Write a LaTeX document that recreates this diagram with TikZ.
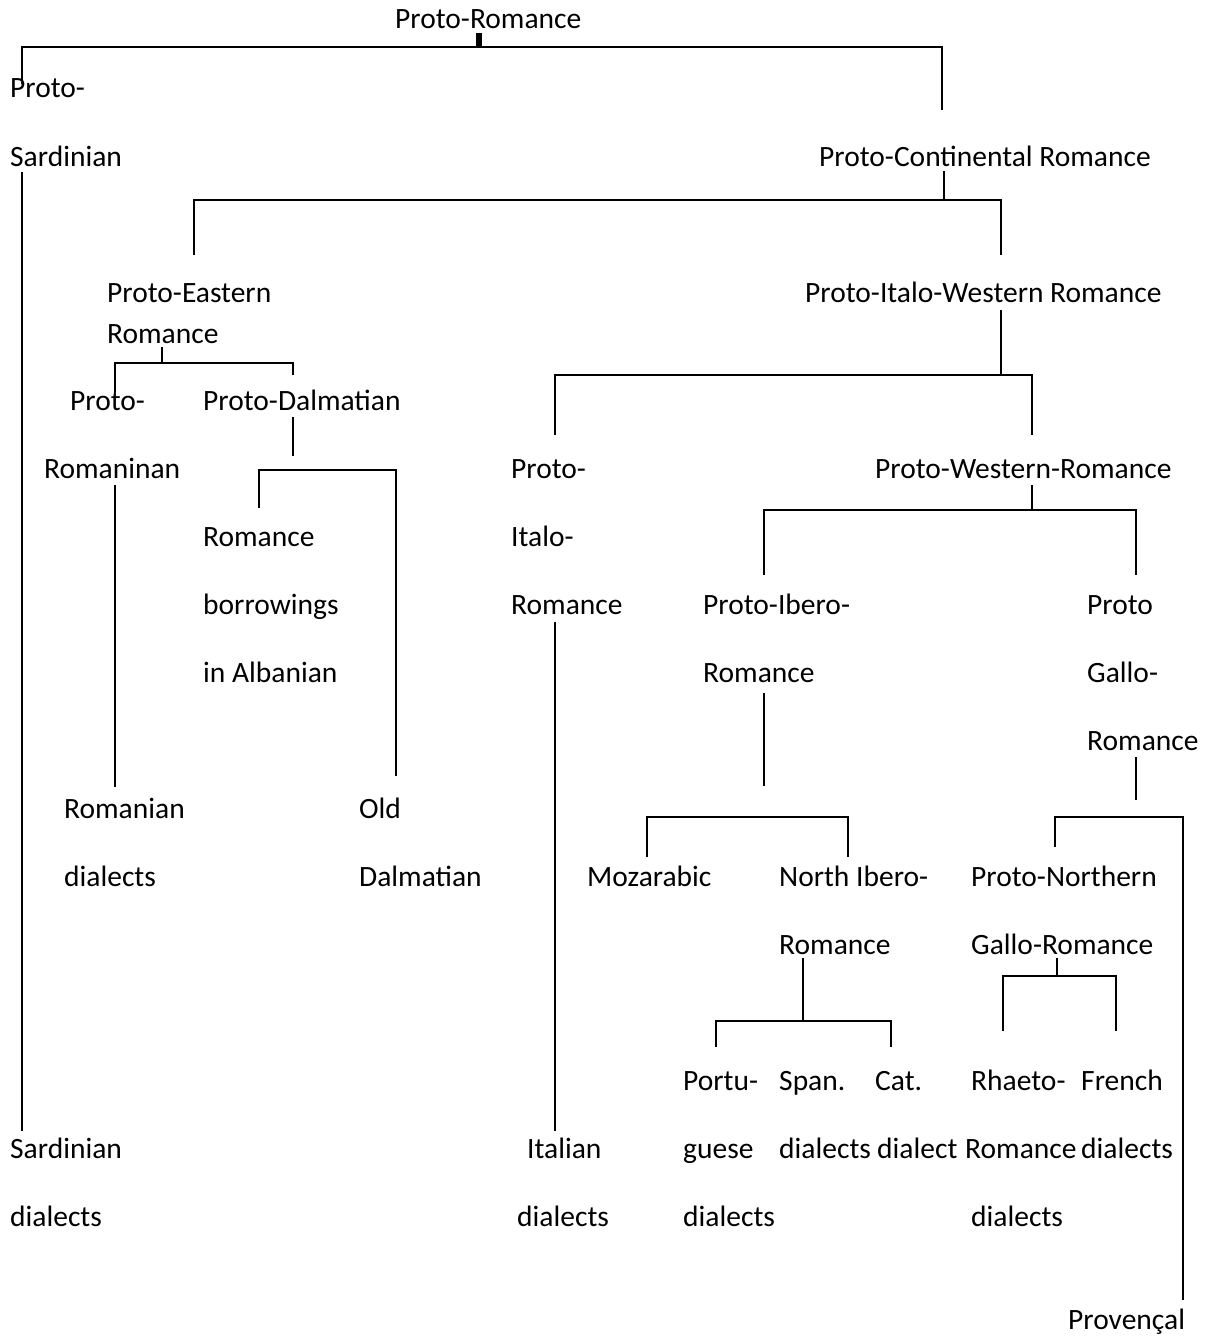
\documentclass[tikz,border=0pt]{standalone}
\usepackage{fontspec}
\setmainfont{Carlito}
\begin{document}
\begin{tikzpicture}[x=1pt,y=-1pt,
  lbl/.style={anchor=base west, inner sep=0pt, font=\fontsize{29.5}{35}\selectfont},
  link/.style={draw=black, line width=2pt},
  stub/.style={draw=black, line width=6pt}]
\useasboundingbox[fill=white] (0,0) rectangle (1205,1338);

% ---- labels ----
\node[lbl] (pr)   at (395,29)   {Proto-Romance};
\node[lbl] (ps1)  at (10,97)    {Proto-};
\node[lbl] (ps2)  at (10,166)   {Sardinian};
\node[lbl] (pc)   at (819,166)  {Proto-Continental Romance};
\node[lbl] (pe1)  at (107,302)  {Proto-Eastern};
\node[lbl] (pe2)  at (107,343)  {Romance};
\node[lbl] (piw)  at (805,302)  {Proto-Italo-Western Romance};
\node[lbl] (prm1) at (70,410)   {Proto-};
\node[lbl] (prm2) at (44,478)   {Romaninan};
\node[lbl] (pd)   at (203,410)  {Proto-Dalmatian};
\node[lbl] (pi1)  at (511,478)  {Proto-};
\node[lbl] (pi2)  at (511,546)  {Italo-};
\node[lbl] (pi3)  at (511,614)  {Romance};
\node[lbl] (pw)   at (875,478)  {Proto-Western-Romance};
\node[lbl] (rb1)  at (203,546)  {Romance};
\node[lbl] (rb2)  at (203,614)  {borrowings};
\node[lbl] (rb3)  at (203,682)  {in Albanian};
\node[lbl] (pib1) at (703,614)  {Proto-Ibero-};
\node[lbl] (pib2) at (703,682)  {Romance};
\node[lbl] (pg1)  at (1087,614) {Proto};
\node[lbl] (pg2)  at (1087,682) {Gallo-};
\node[lbl] (pg3)  at (1087,750) {Romance};
\node[lbl] (rd1)  at (64,818)   {Romanian};
\node[lbl] (rd2)  at (64,886)   {dialects};
\node[lbl] (od1)  at (359,818)  {Old};
\node[lbl] (od2)  at (359,886)  {Dalmatian};
\node[lbl] (moz)  at (587,886)  {Mozarabic};
\node[lbl] (nib1) at (779,886)  {North Ibero-};
\node[lbl] (nib2) at (779,954)  {Romance};
\node[lbl] (png1) at (971,886)  {Proto-Northern};
\node[lbl] (png2) at (971,954)  {Gallo-Romance};
\node[lbl] (pt1)  at (683,1090) {Portu-};
\node[lbl] (pt2)  at (683,1158) {guese};
\node[lbl] (pt3)  at (683,1226) {dialects};
\node[lbl] (sp1)  at (779,1090) {Span.};
\node[lbl] (sp2)  at (779,1158) {dialects};
\node[lbl] (ct1)  at (875,1090) {Cat.};
\node[lbl] (ct2)  at (877,1158) {dialect};
\node[lbl] (rh1)  at (971,1090) {Rhaeto-};
\node[lbl] (rh2)  at (965,1158) {Romance};
\node[lbl] (rh3)  at (971,1226) {dialects};
\node[lbl] (fr1)  at (1081,1090) {French};
\node[lbl] (fr2)  at (1081,1158) {dialects};
\node[lbl] (sd1)  at (10,1158)  {Sardinian};
\node[lbl] (sd2)  at (10,1226)  {dialects};
\node[lbl] (it1)  at (527,1158) {Italian};
\node[lbl] (it2)  at (517,1226) {dialects};
\node[lbl] (prov) at (1068,1329) {Provençal};

% ---- branch points ----
% Proto-Romance
\coordinate (a0) at (479,33);   \coordinate (a1) at (479,47);
\coordinate (aL) at (22,47);    \coordinate (aLb) at (22,84);
\coordinate (aR) at (942,47);   \coordinate (aRb) at (942,110);
% Proto-Sardinian -> Sardinian dialects
\coordinate (s0) at (22,172);   \coordinate (s1) at (22,1131);
% Proto-Continental Romance
\coordinate (c0) at (944,171);  \coordinate (c1) at (944,200);
\coordinate (cL) at (194,200);  \coordinate (cLb) at (194,255);
\coordinate (cR) at (1001,200); \coordinate (cRb) at (1001,255);
% Proto-Eastern Romance
\coordinate (e0) at (162,347);  \coordinate (e1) at (162,363);
\coordinate (eL) at (115,363);  \coordinate (eLb) at (115,392);
\coordinate (eR) at (293,363);  \coordinate (eRb) at (293,375);
% Proto-Romaninan -> Romanian dialects
\coordinate (m0) at (115,485);  \coordinate (m1) at (115,787);
% Proto-Dalmatian
\coordinate (d0) at (293,417);  \coordinate (d1) at (293,456);
\coordinate (dL) at (259,470);  \coordinate (dLb) at (259,508);
\coordinate (dR) at (396,470);  \coordinate (dRb) at (396,776);
% Proto-Italo-Western Romance
\coordinate (w0) at (1001,310); \coordinate (w1) at (1001,375);
\coordinate (wL) at (555,375);  \coordinate (wLb) at (555,435);
\coordinate (wR) at (1032,375); \coordinate (wRb) at (1032,435);
% Proto-Italo-Romance -> Italian dialects
\coordinate (i0) at (555,622);  \coordinate (i1) at (555,1131);
% Proto-Western-Romance
\coordinate (v0) at (1032,485); \coordinate (v1) at (1032,510);
\coordinate (vL) at (764,510);  \coordinate (vLb) at (764,575);
\coordinate (vR) at (1136,510); \coordinate (vRb) at (1136,575);
% Proto-Ibero-Romance
\coordinate (b0) at (764,693);  \coordinate (b1) at (764,786);
\coordinate (bL) at (647,817);  \coordinate (bLb) at (647,857);
\coordinate (bR) at (848,817);  \coordinate (bRb) at (848,857);
% Proto Gallo-Romance
\coordinate (g0) at (1136,757); \coordinate (g1) at (1136,800);
\coordinate (gL) at (1055,817); \coordinate (gLb) at (1055,847);
\coordinate (gR) at (1183,817); \coordinate (gRb) at (1183,1300);
% North Ibero-Romance
\coordinate (n0) at (803,958);  \coordinate (n1) at (803,1021);
\coordinate (nL) at (716,1021); \coordinate (nLb) at (716,1047);
\coordinate (nR) at (891,1021); \coordinate (nRb) at (891,1047);
% Proto-Northern Gallo-Romance
\coordinate (f0) at (1057,958); \coordinate (f1) at (1057,976);
\coordinate (fL) at (1003,976); \coordinate (fLb) at (1003,1031);
\coordinate (fR) at (1116,976); \coordinate (fRb) at (1116,1031);

% ---- connectors ----
\draw[stub] (a0) -- (a1);
\draw[link] (aLb) -- (aL) -- (aR) -- (aRb);
\draw[link] (s0) -- (s1);
\draw[link] (c0) -- (c1);
\draw[link] (cLb) -- (cL) -- (cR) -- (cRb);
\draw[link] (e0) -- (e1);
\draw[link] (eLb) -- (eL) -- (eR) -- (eRb);
\draw[link] (m0) -- (m1);
\draw[link] (d0) -- (d1);
\draw[link] (dLb) -- (dL) -- (dR) -- (dRb);
\draw[link] (w0) -- (w1);
\draw[link] (wLb) -- (wL) -- (wR) -- (wRb);
\draw[link] (i0) -- (i1);
\draw[link] (v0) -- (v1);
\draw[link] (vLb) -- (vL) -- (vR) -- (vRb);
\draw[link] (b0) -- (b1);
\draw[link] (bLb) -- (bL) -- (bR) -- (bRb);
\draw[link] (g0) -- (g1);
\draw[link] (gLb) -- (gL) -- (gR) -- (gRb);
\draw[link] (n0) -- (n1);
\draw[link] (nLb) -- (nL) -- (nR) -- (nRb);
\draw[link] (f0) -- (f1);
\draw[link] (fLb) -- (fL) -- (fR) -- (fRb);
\end{tikzpicture}
\end{document}
